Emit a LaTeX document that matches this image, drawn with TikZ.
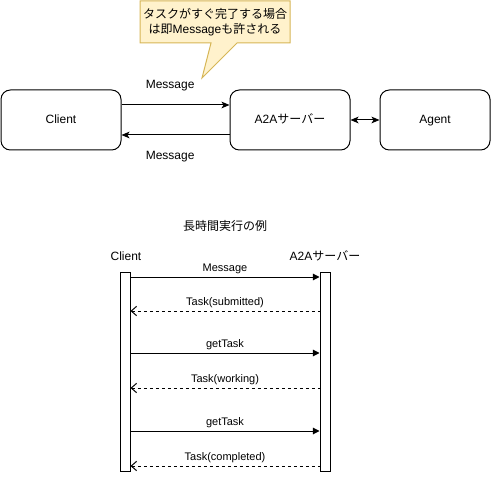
\documentclass[tikz,border=0pt]{standalone}
\usepackage{fontspec}
\setmainfont{Liberation Sans}
\newfontfamily\jp{Noto Sans CJK JP}
\usetikzlibrary{positioning,arrows.meta}
\definecolor{noteFill}{HTML}{FFF2CC}
\definecolor{noteLine}{HTML}{D6B656}

\begin{document}
\begin{tikzpicture}[x=0.75pt,y=-0.75pt,
  line width=0.75pt,
  font=\fontsize{9}{11}\selectfont,
  box/.style={draw, rounded corners=7pt, minimum width=90pt, minimum height=45pt,
    inner sep=0pt, text height=6.5pt, text depth=1pt},
  act/.style={draw, fill=white, minimum width=7.5pt, minimum height=149.25pt, inner sep=0pt},
  arr/.style={-{Stealth[length=6pt,width=5pt,inset=1.5pt]}},
  dbl/.style={{Stealth[length=6pt,width=5pt,inset=1.5pt]}-{Stealth[length=6pt,width=5pt,inset=1.5pt]}},
  call/.style={-{Triangle[length=5pt,width=5pt]}},
  reply/.style={{Straight Barb[length=4pt,width=7pt]}-, dash pattern=on 2.25pt off 2.25pt},
  msg/.style={font=\fontsize{8.25}{10}\selectfont}
]
\useasboundingbox (0,0) rectangle (491,477);

% --- overview ---
\node[box] (client) at (61,120) {Client};
\node[box] (srv) at (290,120) {A2A{\jp サーバー}};
\node[box, minimum width=82.5pt] (agent) at (435,120) {Agent};

\draw[arr] ([yshift=11.25pt]client.east) -- ([yshift=11.25pt]srv.west)
  node[pos=0.45, above=6.5pt] {Message};
\draw[arr] ([yshift=-11.25pt]srv.west) -- ([yshift=-11.25pt]client.east)
  node[pos=0.55, below=8.5pt] {Message};
\draw[dbl] (srv) -- (agent);

% note
\draw[draw=noteLine, fill=noteFill] (140,1) -- (290,1) -- (290,43) -- (237,43)
  -- (202,78) -- (211,43) -- (140,43) -- cycle;
\node[align=center] (note) at (215,22)
  {{\jp タスクがすぐ完了する場合}\\{\jp は即}Message{\jp も許される}};

% --- long running example ---
\node (title) at (225,226) {\jp 長時間実行の例};
\node (cname) at (126,256) {Client};
\node (sname) at (325,256) {A2A{\jp サーバー}};
\node[act] (cact) at (125,371.5) {};
\node[act] (sact) at (325,371.5) {};

\foreach \y/\txt in {277/Message, 353/getTask, 431/getTask}
  \draw[call] (cact.east |- 0,\y) -- (sact.west |- 0,\y)
    node[midway, above=-1pt, msg] {\txt};
\foreach \y/\txt in {311/Task(submitted), 388/Task(working), 466/Task(completed)}
  \draw[reply] (cact.east |- 0,\y) -- (sact.west |- 0,\y)
    node[midway, above=-1pt, msg] {\txt};
\end{tikzpicture}
\end{document}
